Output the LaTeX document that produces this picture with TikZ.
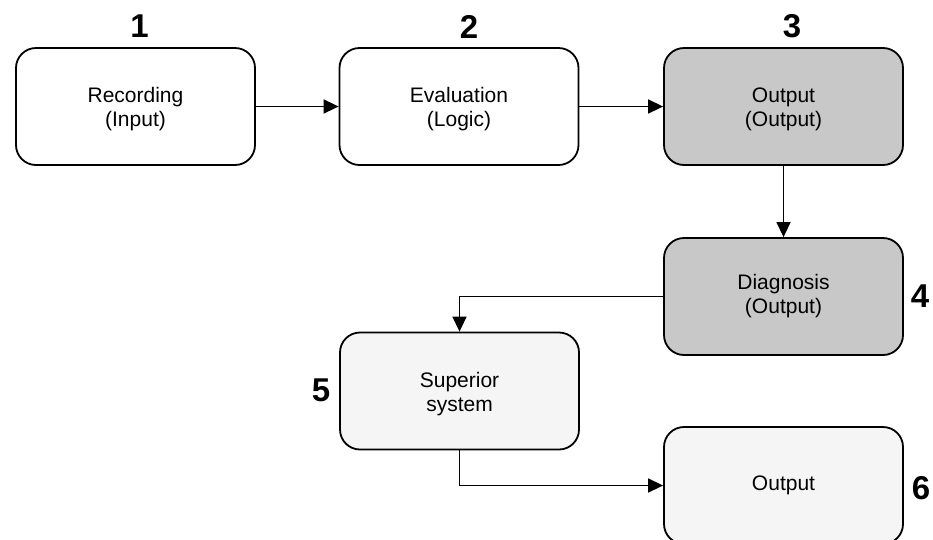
\documentclass[tikz,border=0pt]{standalone}
\usepackage{fontspec}
\setmainfont{Liberation Sans}
\usetikzlibrary{arrows.meta}
\definecolor{boxgray}{RGB}{200,200,200}
\definecolor{boxlight}{RGB}{245,245,245}
\newcommand{\lowerstrut}{\rule{0pt}{21pt}}
\begin{document}
\begin{tikzpicture}[x=1pt,y=-1pt,
  blk/.style={draw=black, line width=1.8pt, rounded corners=20pt, minimum width=239pt, minimum height=117pt, align=center, inner sep=0pt, font=\fontsize{21}{24}\selectfont},
  num/.style={font=\fontsize{33}{35}\selectfont\bfseries, inner sep=0pt},
  conn/.style={draw=black, line width=1.5pt, -{Triangle[length=15pt,width=14pt]}}]
\useasboundingbox (0,0) rectangle (933,539);
\node[blk, fill=white] (b1) at (135.5,106.5) {\lowerstrut Recording\\(Input)};
\node[blk, fill=white] (b2) at (459,106.5) {\lowerstrut Evaluation\\(Logic)};
\node[blk, fill=boxgray] (b3) at (783.5,106.5) {\lowerstrut Output\\(Output)};
\node[blk, fill=boxgray] (b4) at (783.5,296.5) {Diagnosis\\(Output)};
\node[blk, fill=boxlight] (b5) at (459.5,391) {\lowerstrut Superior\\system};
\node[blk, fill=boxlight] (b6) at (783.5,485.5) {Output};
\node[num] (n1) at (139.5,26.5) {1};
\node[num] (n2) at (469,26.5) {2};
\node[num] (n3) at (792,26.5) {3};
\node[num] (n4) at (920,296) {4};
\node[num] (n5) at (321,390) {5};
\node[num] (n6) at (921,488) {6};
\draw[conn] (b1.east) -- (b2.west);
\draw[conn] (b2.east) -- (b3.west);
\draw[conn] (b3.south) -- (b4.north);
\draw[conn] (b4.west) -| (b5.north);
\draw[conn] (b5.south) |- (b6.west);
\end{tikzpicture}
\end{document}
